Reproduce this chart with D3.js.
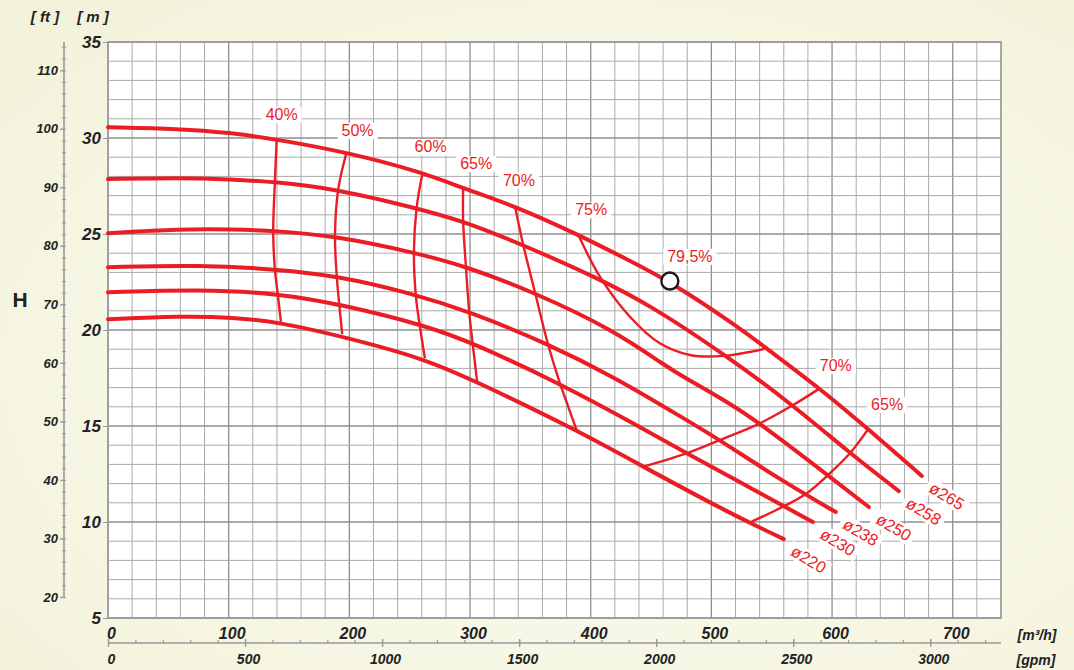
<!DOCTYPE html>
<html><head><meta charset="utf-8">
<script src="https://cdn.jsdelivr.net/npm/d3@7"></script>
<style>
html,body{margin:0;padding:0;}
body{width:1074px;height:670px;overflow:hidden;}
svg{display:block;font-family:"Liberation Sans",Arial,sans-serif;}
</style></head><body>
<svg id="c" width="1074" height="670"></svg>
<script>
// ---------- data ----------
const flowTicks = [0,100,200,300,400,500,600,700];
const gpmTicks = [0,500,1000,1500,2000,2500,3000];
const headTicks = [5,10,15,20,25,30,35];
const ftTicks = [20,30,40,50,60,70,80,90,100,110];

const diameterLabels = ["ø265","ø258","ø250","ø238","ø230","ø220"];
const d265 = [[0,30.56],[59.6,30.48],[100.2,30.28],[139.8,29.93],[197.7,29.26],[260.7,28.21],[294.3,27.38],[337.2,26.46],[389.6,24.97],[426.9,23.78],[465.6,22.55],[523.6,20.10],[545.7,19.04],[589.8,16.96],[629.9,14.84],[674.4,12.40]];
const d258 = [[0,27.86],[59.6,27.93],[101.1,27.85],[138.3,27.72],[190.8,27.33],[255.7,26.34],[294.3,25.68],[344.1,24.43],[406,22.70],[449,21.30],[509.7,18.79],[567.7,16.09],[614.8,13.58],[655.3,11.61]];
const d250 = [[0,25.04],[59.6,25.26],[103.8,25.24],[138.3,25.17],[188.1,24.90],[254.3,24.03],[297.2,23.30],[352.3,21.99],[419,20.0],[462.8,18.09],[476.6,17.57],[515.3,16.18],[540.2,15.14],[598.1,12.36],[630.5,10.78]];
const d238 = [[0,23.27],[76.2,23.39],[139.8,23.16],[189.5,22.83],[250.2,21.94],[299.9,20.95],[365,19.27],[419,17.57],[479.4,15.31],[507,14.27],[557.2,12.19],[603.1,10.52]];
const d230 = [[0,21.96],[76.2,22.12],[139.8,21.91],[192.2,21.35],[266.8,20.17],[302.6,19.31],[374.5,17.22],[440.7,14.96],[479.4,13.58],[515.3,12.36],[584.1,10.0]];
const d220 = [[0,20.56],[59.6,20.73],[103.8,20.66],[142.5,20.40],[194.9,19.65],[261.2,18.53],[305.4,17.31],[388.3,14.79],[443.5,12.88],[515.3,10.45],[560,9.11]];

const effLabels = ["40%","50%","60%","65%","70%","75%","70%","65%"];
const e40 = [[139.8,29.93],[138.3,27.72],[136.9,25.12],[138.3,23.16],[140.6,21.91],[143.3,20.43]];
const e50 = [[197.7,29.26],[190.8,27.33],[188.1,24.90],[189.5,22.86],[191.6,21.35],[194.1,19.79]];
const e60 = [[260.7,28.21],[255.7,26.34],[253.5,24.03],[255.2,21.73],[258.5,20.17],[262.6,18.53]];
const e65 = [[294.3,27.38],[294.3,25.68],[296.6,23.30],[299.3,20.95],[302.1,19.34],[305.9,17.31]];
const e70 = [[337.2,26.46],[344.1,24.43],[353.7,21.99],[364.8,19.22],[374.5,17.22],[388.3,14.79]];
const e75 = [[389.6,24.97],[407.6,22.78],[432.5,20.69],[457.3,19.31],[482.2,18.70],[509.7,18.65],[545.7,19.04]];
const e70r = [[589.8,16.96],[567.7,16.09],[540.2,15.14],[507,14.27],[479.4,13.58],[443.5,12.88]];
const e65r = [[629.9,14.84],[614.8,13.58],[596.7,12.45],[578.8,11.49],[559.4,10.80],[533.3,10.02]];

const bepPoint = [465.6,22.55];
const bepLabel = "79,5%";

// ---------- layout / style ----------
const RED = "#ec1c24", TXT = "#222";
const X0 = 108, X1 = 1001, Y0 = 618, Y1 = 42;
const svg = d3.select("#c");
const x = d3.scaleLinear([0,740],[X0,X1]);
const y = d3.scaleLinear([5,35],[Y0,Y1]);
const xg = d3.scaleLinear([0,740/0.2271247],[X0,X1]);
const yft = d3.scaleLinear([5/0.3048,35/0.3048],[Y0,Y1]);

const defs = svg.append("defs");
const rg = defs.append("radialGradient").attr("id","bg").attr("cx","55%").attr("cy","55%").attr("r","75%");
rg.append("stop").attr("offset","0").attr("stop-color","#fdfdf5");
rg.append("stop").attr("offset","1").attr("stop-color","#f2f2da");
svg.append("rect").attr("width",1074).attr("height",670).attr("fill","url(#bg)");

// plot area
svg.append("rect").attr("x",X0).attr("y",Y1).attr("width",X1-X0).attr("height",Y0-Y1).attr("fill","#fff");
const grid = svg.append("g");
grid.selectAll("line.v").data(d3.range(0,741,20)).join("line")
  .attr("x1",d=>x(d)).attr("x2",d=>x(d)).attr("y1",Y1).attr("y2",Y0)
  .attr("stroke",d=>d%100===0?"#8f8f8f":"#ababab").attr("stroke-width",d=>d%100===0?1.3:1);
grid.selectAll("line.h").data(d3.range(5,36,1)).join("line")
  .attr("y1",d=>y(d)).attr("y2",d=>y(d)).attr("x1",X0).attr("x2",X1)
  .attr("stroke",d=>d%5===0?"#8f8f8f":"#ababab").attr("stroke-width",d=>d%5===0?1.3:1);
svg.append("rect").attr("x",X0).attr("y",Y1).attr("width",X1-X0).attr("height",Y0-Y1)
  .attr("fill","none").attr("stroke","#999").attr("stroke-width",1.5);

function styleText(sel,size){
  sel.attr("font-size",size).attr("font-weight","bold").attr("font-style","italic").attr("fill",TXT)
     .attr("font-family","'Liberation Sans',Arial,sans-serif");
}

// m axis
const gy = svg.append("g").attr("transform",`translate(${X0},0)`)
  .call(d3.axisLeft(y).tickValues(headTicks).tickSize(5).tickPadding(2));
gy.select(".domain").remove();
gy.selectAll("line").attr("stroke","#999");
styleText(gy.selectAll("text"),17);

// m3/h axis
const gx = svg.append("g").attr("transform",`translate(0,${Y0})`)
  .call(d3.axisBottom(x).tickValues(flowTicks).tickSize(0).tickPadding(10));
gx.select(".domain").remove();
styleText(gx.selectAll("text"),16);
gx.selectAll("text").attr("dx",3);

// gpm axis
const GY = 643;
const gg = svg.append("g").attr("transform",`translate(0,${GY})`);
gg.append("line").attr("x1",X0).attr("x2",X1).attr("stroke","#999").attr("stroke-width",1.6);
gg.append("g").call(d3.axisTop(xg).tickValues(d3.range(0,3300,100)).tickSize(3).tickFormat(""))
  .call(s=>{s.select(".domain").remove(); s.selectAll("line").attr("stroke","#999").attr("stroke-width",1.2);});
const gm = gg.append("g").call(d3.axisBottom(xg).tickValues(gpmTicks).tickSize(4).tickPadding(7).tickFormat(d3.format("d")));
gm.select(".domain").remove();
gm.selectAll("line").attr("stroke","#999").attr("stroke-width",1.4).attr("y1",-4);
styleText(gm.selectAll("text"),14);
gm.selectAll("text").attr("dx",3);

// ft axis
const FX = 64;
const gf = svg.append("g").attr("transform",`translate(${FX},0)`);
gf.append("line").attr("y1",yft(20)).attr("y2",Y1).attr("stroke","#999").attr("stroke-width",1.6);
gf.append("g").call(d3.axisLeft(yft).tickValues(d3.range(20,115,2)).tickSize(2).tickFormat(""))
  .call(s=>{s.select(".domain").remove(); s.selectAll("line").attr("stroke","#999").attr("x2",2).attr("x1",-2);});
const gfm = gf.append("g").call(d3.axisLeft(yft).tickValues(ftTicks).tickSize(4).tickPadding(2));
gfm.select(".domain").remove();
gfm.selectAll("line").attr("stroke","#999").attr("stroke-width",1.3);
styleText(gfm.selectAll("text"),13);

// unit labels
const ul = svg.append("g");
styleText(ul.append("text").attr("x",45).attr("y",22).attr("text-anchor","middle").text("[ ft ]"),15);
styleText(ul.append("text").attr("x",93).attr("y",22).attr("text-anchor","middle").text("[ m ]"),15);
styleText(ul.append("text").attr("x",1037).attr("y",640).attr("text-anchor","middle").text("[m³/h]"),14);
styleText(ul.append("text").attr("x",1036).attr("y",665).attr("text-anchor","middle").text("[gpm]"),14);
ul.append("text").attr("x",20).attr("y",307).attr("text-anchor","middle").attr("font-size",21)
  .attr("font-weight","bold").attr("fill",TXT).text("H");

// pump curves
const pumpCurves = [d265,d258,d250,d238,d230,d220];
const line = d3.line().x(d=>x(d[0])).y(d=>y(d[1])).curve(d3.curveBasis);
svg.append("g").selectAll("path").data(pumpCurves).join("path")
  .attr("d",line).attr("fill","none").attr("stroke",RED).attr("stroke-width",4).attr("stroke-linecap","round");

// efficiency curves
const effCurves = [e40,e50,e60,e65,e70,e75,e70r,e65r];
const eline = d3.line().x(d=>x(d[0])).y(d=>y(d[1])).curve(d3.curveCatmullRom.alpha(0.5));
svg.append("g").selectAll("path").data(effCurves).join("path")
  .attr("d",eline).attr("fill","none").attr("stroke",RED).attr("stroke-width",2.4);

// labels with white boxes
function boxLabel(g, text, cx, cy, size, rot){
  const grp = g.append("g").attr("transform",`translate(${cx},${cy}) rotate(${rot||0})`);
  const rect = grp.append("rect").attr("fill","#fff");
  const t = grp.append("text").attr("text-anchor","middle").attr("dy","0.36em")
    .attr("font-size",size).attr("fill",RED).text(text);
  const bb = t.node().getBBox();
  rect.attr("x",bb.x-4).attr("y",bb.y+1).attr("width",bb.width+8).attr("height",bb.height-1);
}
const lg = svg.append("g");
const effOffsets = [[5,-25],[11,-22],[8,-26],[13,-25],[4,-26],[13,-25],[16,-23],[19,-25]];
effCurves.forEach((c,i)=>{
  boxLabel(lg, effLabels[i], x(c[0][0])+effOffsets[i][0], y(c[0][1])+effOffsets[i][1], 16, 0);
});
boxLabel(lg, bepLabel, x(bepPoint[0])+20, y(bepPoint[1])-25, 16, 0);
pumpCurves.forEach((c,i)=>{
  const e = c[c.length-1];
  boxLabel(lg, diameterLabels[i], x(e[0])+25, y(e[1])+20, 16.5, 31);
});

// BEP marker
svg.append("circle").attr("cx",x(bepPoint[0])).attr("cy",y(bepPoint[1])).attr("r",8.5)
  .attr("fill","#fff").attr("stroke","#1a1a1a").attr("stroke-width",2.4);
</script>
</body></html>
